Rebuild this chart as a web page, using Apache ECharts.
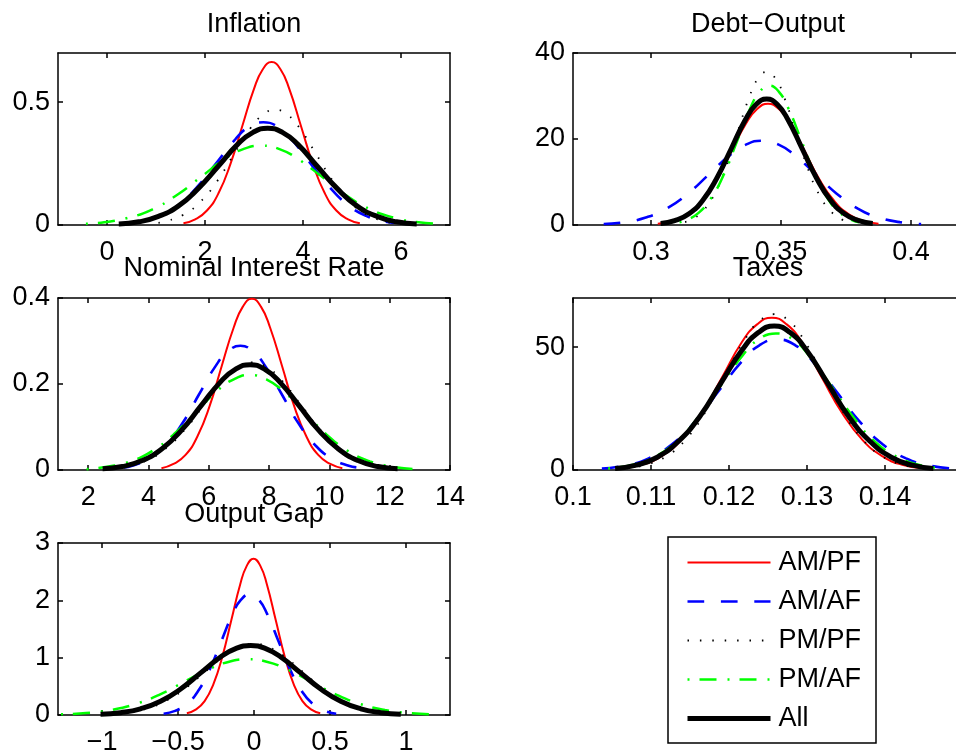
<!DOCTYPE html>
<html>
<head>
<meta charset="utf-8">
<script src="https://cdn.jsdelivr.net/npm/echarts@6/dist/echarts.min.js"></script>
<style>
html,body{margin:0;padding:0;background:#fff;}
#chart{width:956px;height:754px;}
</style>
</head>
<body>
<div id="chart"></div>
<script>
// ---------------- DATA ----------------
const seriesNames = ['AM/PF', 'AM/AF', 'PM/PF', 'PM/AF', 'All'];
const panelTitles = ['Inflation', 'Debt\u2212Output', 'Nominal Interest Rate', 'Taxes', 'Output Gap'];

// tick values
const inflationXTicks = [0, 2, 4, 6];
const inflationYTicks = [0, 0.5];
const debtXTicks = [0.3, 0.35, 0.4];
const debtYTicks = [0, 20, 40];
const rateXTicks = [2, 4, 6, 8, 10, 12, 14];
const rateYTicks = [0, 0.2, 0.4];
const taxXTicks = [0.1, 0.11, 0.12, 0.13, 0.14];
const taxYTicks = [0, 50];
const gapXTicks = [-1, -0.5, 0, 0.5, 1];
const gapYTicks = [0, 1, 2, 3];

// Inflation densities [x, density]
const inflation_AMPF = [[1.56,0.007],[1.80,0.023],[2.04,0.059],[2.28,0.131],[2.52,0.249],[2.76,0.402],[3.00,0.554],[3.18,0.634],[3.36,0.663],[3.54,0.634],[3.72,0.554],[3.96,0.402],[4.20,0.249],[4.44,0.131],[4.68,0.059],[4.92,0.023],[5.16,0.007]];
const inflation_AMAF = [[0.52,0.008],[0.71,0.014],[1.09,0.037],[1.47,0.083],[1.85,0.157],[2.24,0.254],[2.62,0.349],[2.90,0.400],[3.19,0.418],[3.48,0.400],[3.76,0.349],[4.14,0.254],[4.53,0.157],[4.91,0.083],[5.29,0.037],[5.67,0.014],[5.86,0.008]];
const inflation_PMPF = [[1.05,0.009],[1.22,0.016],[1.56,0.042],[1.90,0.093],[2.24,0.176],[2.58,0.285],[2.92,0.392],[3.18,0.448],[3.43,0.469],[3.69,0.448],[3.94,0.392],[4.28,0.285],[4.62,0.176],[4.96,0.093],[5.30,0.042],[5.64,0.016],[5.81,0.009]];
const inflation_PMAF = [[-0.43,0.005],[-0.06,0.011],[0.43,0.029],[0.93,0.064],[1.42,0.121],[1.92,0.196],[2.41,0.270],[2.78,0.309],[3.15,0.323],[3.52,0.309],[3.89,0.270],[4.39,0.196],[4.88,0.121],[5.37,0.064],[5.87,0.029],[6.36,0.011],[6.73,0.005]];
const inflation_All = [[0.24,0.004],[0.65,0.013],[1.05,0.035],[1.46,0.078],[1.86,0.148],[2.27,0.239],[2.67,0.329],[2.98,0.377],[3.28,0.394],[3.58,0.377],[3.89,0.329],[4.29,0.239],[4.70,0.148],[5.10,0.078],[5.51,0.035],[5.91,0.013],[6.32,0.004]];

// Debt-Output densities
const debt_AMPF = [[0.3026,0.31],[0.3082,0.96],[0.3139,2.51],[0.3195,5.58],[0.3252,10.58],[0.3309,17.12],[0.3365,23.55],[0.3408,26.96],[0.3450,28.2],[0.3492,26.96],[0.3535,23.55],[0.3592,17.12],[0.3648,10.58],[0.3705,5.58],[0.3761,2.51],[0.3818,0.96],[0.3875,0.31]];
const debt_AMAF = [[0.2818,0.22],[0.2899,0.67],[0.2980,1.74],[0.3062,3.88],[0.3143,7.35],[0.3225,11.90],[0.3306,16.37],[0.3367,18.74],[0.3428,19.6],[0.3489,18.74],[0.3550,16.37],[0.3632,11.90],[0.3713,7.35],[0.3794,3.88],[0.3876,1.74],[0.3957,0.67],[0.4039,0.22]];
const debt_PMPF = [[0.3131,0.70],[0.3154,1.21],[0.3198,3.16],[0.3243,7.05],[0.3288,13.35],[0.3333,21.61],[0.3378,29.73],[0.3411,34.03],[0.3445,35.6],[0.3479,34.03],[0.3512,29.73],[0.3557,21.61],[0.3602,13.35],[0.3647,7.05],[0.3692,3.16],[0.3736,1.21],[0.3759,0.70]];
const debt_PMAF = [[0.3110,0.64],[0.3135,1.10],[0.3184,2.88],[0.3233,6.42],[0.3283,12.15],[0.3332,19.67],[0.3381,27.05],[0.3418,30.97],[0.3455,32.4],[0.3492,30.97],[0.3529,27.05],[0.3578,19.67],[0.3627,12.15],[0.3677,6.42],[0.3726,2.88],[0.3775,1.10],[0.3800,0.64]];
const debt_All = [[0.3037,0.33],[0.3091,1.00],[0.3146,2.60],[0.3200,5.80],[0.3254,10.99],[0.3309,17.79],[0.3363,24.47],[0.3404,28.01],[0.3445,29.3],[0.3486,28.01],[0.3527,24.47],[0.3581,17.79],[0.3636,10.99],[0.3690,5.80],[0.3744,2.60],[0.3799,1.00],[0.3853,0.33]];

// Nominal interest rate densities
const rate_AMPF = [[4.43,0.004],[4.83,0.014],[5.23,0.035],[5.63,0.079],[6.03,0.149],[6.43,0.242],[6.83,0.332],[7.13,0.380],[7.43,0.398],[7.73,0.380],[8.03,0.332],[8.43,0.242],[8.83,0.149],[9.23,0.079],[9.63,0.035],[10.03,0.014],[10.43,0.004]];
const rate_AMAF = [[3.18,0.006],[3.46,0.010],[4.01,0.026],[4.56,0.057],[5.12,0.108],[5.67,0.175],[6.22,0.241],[6.64,0.276],[7.05,0.289],[7.46,0.276],[7.88,0.241],[8.43,0.175],[8.98,0.108],[9.54,0.057],[10.09,0.026],[10.64,0.010],[10.92,0.006]];
const rate_PMPF = [[2.65,0.003],[3.29,0.009],[3.93,0.022],[4.57,0.050],[5.21,0.094],[5.85,0.152],[6.49,0.209],[6.97,0.239],[7.45,0.250],[7.93,0.239],[8.41,0.209],[9.05,0.152],[9.69,0.094],[10.33,0.050],[10.97,0.022],[11.61,0.009],[12.25,0.003]];
const rate_PMAF = [[1.95,0.002],[2.68,0.008],[3.40,0.020],[4.12,0.044],[4.84,0.083],[5.57,0.134],[6.29,0.185],[6.83,0.211],[7.37,0.221],[7.91,0.211],[8.45,0.185],[9.18,0.134],[9.90,0.083],[10.62,0.044],[11.34,0.020],[12.06,0.008],[12.79,0.002]];
const rate_All = [[2.48,0.003],[3.13,0.008],[3.79,0.022],[4.44,0.049],[5.09,0.092],[5.74,0.149],[6.39,0.205],[6.88,0.234],[7.37,0.245],[7.86,0.234],[8.35,0.205],[9.00,0.149],[9.65,0.092],[10.30,0.049],[10.95,0.022],[11.61,0.008],[12.26,0.003]];

// Taxes densities
const tax_AMPF = [[0.1062,0.69],[0.1088,2.11],[0.1113,5.51],[0.1139,12.28],[0.1165,23.25],[0.1191,37.63],[0.1216,51.77],[0.1236,59.27],[0.1255,62.0],[0.1274,59.27],[0.1294,51.77],[0.1319,37.63],[0.1345,23.25],[0.1371,12.28],[0.1397,5.51],[0.1422,2.11],[0.1448,0.69]];
const tax_AMAF = [[0.1037,0.59],[0.1067,1.81],[0.1097,4.72],[0.1127,10.51],[0.1157,19.91],[0.1187,32.23],[0.1217,44.34],[0.1239,50.76],[0.1262,53.1],[0.1285,50.76],[0.1307,44.34],[0.1337,32.23],[0.1367,19.91],[0.1397,10.51],[0.1427,4.72],[0.1457,1.81],[0.1487,0.59]];
const tax_PMPF = [[0.1069,0.70],[0.1094,2.16],[0.1120,5.64],[0.1145,12.55],[0.1170,23.78],[0.1195,38.48],[0.1220,52.94],[0.1239,60.61],[0.1258,63.4],[0.1277,60.61],[0.1296,52.94],[0.1321,38.48],[0.1346,23.78],[0.1371,12.55],[0.1396,5.64],[0.1422,2.16],[0.1447,0.70]];
const tax_PMAF = [[0.1045,0.62],[0.1073,1.89],[0.1102,4.94],[0.1131,11.01],[0.1159,20.85],[0.1188,33.75],[0.1217,46.43],[0.1238,53.15],[0.1260,55.6],[0.1282,53.15],[0.1303,46.43],[0.1332,33.75],[0.1361,20.85],[0.1389,11.01],[0.1418,4.94],[0.1447,1.89],[0.1475,0.62]];
const tax_All = [[0.1054,0.65],[0.1081,1.99],[0.1108,5.21],[0.1135,11.60],[0.1163,21.98],[0.1190,35.57],[0.1217,48.93],[0.1238,56.02],[0.1258,58.6],[0.1278,56.02],[0.1299,48.93],[0.1326,35.57],[0.1353,21.98],[0.1381,11.60],[0.1408,5.21],[0.1435,1.99],[0.1462,0.65]];

// Output gap densities
const gap_AMPF = [[-0.442,0.030],[-0.384,0.093],[-0.325,0.242],[-0.267,0.540],[-0.208,1.022],[-0.149,1.655],[-0.091,2.276],[-0.047,2.606],[-0.003,2.726],[0.041,2.606],[0.085,2.276],[0.143,1.655],[0.202,1.022],[0.261,0.540],[0.319,0.242],[0.378,0.093],[0.436,0.030]];
const gap_AMAF = [[-0.595,0.023],[-0.519,0.072],[-0.443,0.187],[-0.368,0.417],[-0.292,0.791],[-0.216,1.280],[-0.141,1.760],[-0.084,2.015],[-0.027,2.108],[0.030,2.015],[0.087,1.760],[0.162,1.280],[0.238,0.791],[0.314,0.417],[0.389,0.187],[0.465,0.072],[0.541,0.023]];
const gap_PMPF = [[-0.966,0.014],[-0.837,0.042],[-0.708,0.110],[-0.580,0.246],[-0.451,0.465],[-0.322,0.753],[-0.193,1.035],[-0.097,1.185],[0,1.240],[0.097,1.185],[0.193,1.035],[0.322,0.753],[0.451,0.465],[0.580,0.246],[0.708,0.110],[0.837,0.042],[0.966,0.014]];
const gap_PMAF = [[-1.270,0.011],[-1.106,0.033],[-0.942,0.087],[-0.778,0.193],[-0.614,0.365],[-0.450,0.591],[-0.286,0.812],[-0.163,0.930],[-0.040,0.973],[0.083,0.930],[0.206,0.812],[0.370,0.591],[0.534,0.365],[0.698,0.193],[0.862,0.087],[1.026,0.033],[1.190,0.011]];
const gap_All = [[-1.010,0.013],[-0.878,0.041],[-0.747,0.108],[-0.615,0.240],[-0.483,0.454],[-0.351,0.735],[-0.220,1.011],[-0.121,1.158],[-0.022,1.211],[0.077,1.158],[0.176,1.011],[0.307,0.735],[0.439,0.454],[0.571,0.240],[0.703,0.108],[0.834,0.041],[0.966,0.013]];

// ---------------- LAYOUT & STYLE ----------------
const FONT = "'Liberation Sans', Arial, Helvetica, sans-serif";
const FS = 27;
const lineStyles = [
  {color: '#ff0000', width: 2, type: 'solid'},
  {color: '#0000ff', width: 2.6, type: [16.7, 16.7]},
  {color: '#000000', width: 1.8, type: [1.5, 10.9]},
  {color: '#00ff00', width: 2.5, type: [2, 10, 17, 11]},
  {color: '#000000', width: 5, type: 'solid'}
];

const panels = [
  {box: [58, 53, 392, 172], xr: [-1, 7], yr: [0, 0.7], xt: inflationXTicks, yt: inflationYTicks,
   data: [inflation_AMPF, inflation_AMAF, inflation_PMPF, inflation_PMAF, inflation_All], tpos: [254, 25]},
  {box: [573, 53, 390, 172], xr: [0.27, 0.42], yr: [0, 40], xt: debtXTicks, yt: debtYTicks,
   data: [debt_AMPF, debt_AMAF, debt_PMPF, debt_PMAF, debt_All], tpos: [768, 25]},
  {box: [58, 298, 392, 172], xr: [1, 14], yr: [0, 0.4], xt: rateXTicks, yt: rateYTicks,
   data: [rate_AMPF, rate_AMAF, rate_PMPF, rate_PMAF, rate_All], tpos: [254, 269]},
  {box: [573, 298, 390, 172], xr: [0.1, 0.15], yr: [0, 70], xt: taxXTicks, yt: taxYTicks,
   data: [tax_AMPF, tax_AMAF, tax_PMPF, tax_PMAF, tax_All], tpos: [768, 269]},
  {box: [58, 543, 392, 172], xr: [-1.29, 1.29], yr: [0, 3], xt: gapXTicks, yt: gapYTicks,
   data: [gap_AMPF, gap_AMAF, gap_PMPF, gap_PMAF, gap_All], tpos: [254, 515]}
];

function fmt(v) {
  const n = +(+v).toFixed(4);
  return String(n).replace('-', '\u2212');
}

const option = {
  animation: false,
  backgroundColor: '#ffffff',
  title: [], grid: [], xAxis: [], yAxis: [], series: [],
  legend: {
    orient: 'vertical',
    left: 668, top: 537,
    padding: [12, 15, 11, 17],
    itemWidth: 83, itemHeight: 14, itemGap: 12,
    borderColor: '#000', borderWidth: 1.5, backgroundColor: '#fff',
    selectedMode: false,
    textStyle: {fontSize: FS, color: '#000', fontFamily: FONT, padding: [0, 0, 0, 3]},
    data: seriesNames.map((n, k) => ({
      name: n,
      itemStyle: {opacity: 0, borderWidth: 0},
      lineStyle: {width: lineStyles[k].width, type: lineStyles[k].type, color: lineStyles[k].color, opacity: 1}
    }))
  }
};

const axisLine = {show: true, onZero: false, lineStyle: {color: '#000', width: 1.5}};
const mkTick = vals => ({show: true, inside: true, length: 5, customValues: vals, lineStyle: {color: '#000', width: 1.5}});
const mkLabel = (vals, margin) => ({show: true, customValues: vals, margin: margin, fontSize: FS, color: '#000', fontFamily: FONT, formatter: fmt});

panels.forEach((p, i) => {
  option.title.push({
    text: panelTitles[i], left: p.tpos[0], top: p.tpos[1], padding: 0,
    textAlign: 'center', textVerticalAlign: 'middle',
    textStyle: {fontSize: FS, fontWeight: 'normal', color: '#000', fontFamily: FONT}
  });
  option.grid.push({left: p.box[0], top: p.box[1], width: p.box[2], height: p.box[3], containLabel: false, outerBoundsMode: 'none', show: false});
  option.xAxis.push({type: 'value', gridIndex: i, position: 'bottom', min: p.xr[0], max: p.xr[1],
    axisLine: axisLine, axisTick: mkTick(p.xt), axisLabel: mkLabel(p.xt, 14), splitLine: {show: false}});
  option.xAxis.push({type: 'value', gridIndex: i, position: 'top', min: p.xr[0], max: p.xr[1],
    axisLine: axisLine, axisTick: mkTick(p.xt), axisLabel: {show: false}, splitLine: {show: false}});
  option.yAxis.push({type: 'value', gridIndex: i, position: 'left', min: p.yr[0], max: p.yr[1],
    axisLine: axisLine, axisTick: mkTick(p.yt), axisLabel: mkLabel(p.yt, 8), splitLine: {show: false}});
  option.yAxis.push({type: 'value', gridIndex: i, position: 'right', min: p.yr[0], max: p.yr[1],
    axisLine: axisLine, axisTick: mkTick(p.yt), axisLabel: {show: false}, splitLine: {show: false}});
  p.data.forEach((d, k) => {
    option.series.push({
      type: 'line', name: seriesNames[k],
      xAxisIndex: 2 * i, yAxisIndex: 2 * i,
      data: d, showSymbol: false, symbol: 'none',
      smooth: 0.5, clip: true,
      lineStyle: {color: lineStyles[k].color, width: lineStyles[k].width, type: lineStyles[k].type},
      itemStyle: {color: lineStyles[k].color},
      z: 2 + k
    });
  });
});

const chart = echarts.init(document.getElementById('chart'), null, {renderer: 'canvas'});
chart.setOption(option);
</script>
</body>
</html>
